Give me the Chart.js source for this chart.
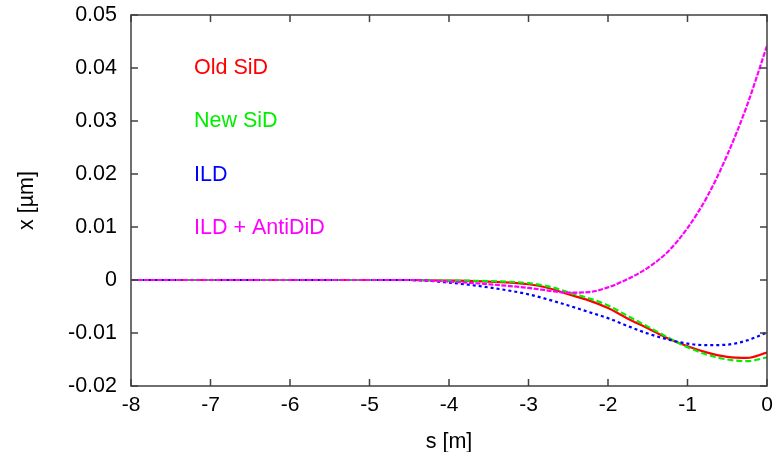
<!DOCTYPE html>
<html>
<head>
<meta charset="utf-8">
<script src="https://cdn.jsdelivr.net/npm/chart.js@4"></script>
<style>
  html, body { margin: 0; padding: 0; background: #fff; }
  #wrap { width: 782px; height: 452px; }
</style>
</head>
<body>
<div id="wrap"><canvas id="c" width="782" height="452"></canvas></div>
<script>
/* ---------- Data ---------- */

const s = [-8, -7, -6, -5, -4.5, -4, -3.5, -3, -2.75, -2.5, -2.25, -2,
           -1.75, -1.5, -1.25, -1, -0.75, -0.5, -0.25, 0];

const oldSiD = [0, 0, 0, 0, 0, -0.0001, -0.0003, -0.0008, -0.0015, -0.0027, -0.0038, -0.0053,
                -0.0073, -0.0091, -0.0110, -0.0125, -0.0137, -0.0145, -0.0147, -0.0137];

const newSiD = [0, 0, 0, 0, 0, -0.0001, -0.0002, -0.0006, -0.0012, -0.0023, -0.0034, -0.0048,
                -0.0068, -0.0088, -0.0108, -0.0127, -0.0141, -0.0150, -0.0153, -0.0146];

const ild = [0, 0, 0, 0, 0, -0.0005, -0.0014, -0.0027, -0.0037, -0.0048, -0.0060, -0.0072,
             -0.0087, -0.0101, -0.0112, -0.0120, -0.0123, -0.0122, -0.0114, -0.0099];

const ildAnti = [0, 0, 0, 0, 0, -0.0003, -0.0008, -0.0015, -0.0020, -0.0024, -0.0023, -0.0014,
                 0.0002, 0.0023, 0.0053, 0.0098, 0.0158, 0.0236, 0.0330, 0.0442];

const names = ["Old SiD", "New SiD", "ILD", "ILD + AntiDiD"];
const xTitle = "s [m]";
const yTitle = "x [\u00b5m]";

/* ---------- Helpers ---------- */

const FONT = "Liberation Sans, Arial, sans-serif";
const pts = ys => s.map((v, i) => ({ x: v, y: ys[i] }));

function series(label, ys, color, dash, order) {
    return {
        label,
        data: pts(ys),
        borderColor: color,
        backgroundColor: color,
        borderWidth: 2.2,
        borderDash: dash,
        pointRadius: 0,
        cubicInterpolationMode: "monotone",
        order
    };
}

/* ---------- Frame, inner ticks, legend, titles ---------- */

const frame = {
    id: "frame",
    afterDatasetsDraw(chart) {
        const { ctx, chartArea: a, scales: { x, y } } = chart;
        const T = 7;
        ctx.save();
        ctx.strokeStyle = "#404040";
        ctx.lineWidth = 1.5;
        ctx.beginPath();
        x.ticks.forEach(t => {
            const px = x.getPixelForValue(t.value);
            ctx.moveTo(px, a.bottom); ctx.lineTo(px, a.bottom - T);
            ctx.moveTo(px, a.top); ctx.lineTo(px, a.top + T);
        });
        y.ticks.forEach(t => {
            const py = y.getPixelForValue(t.value);
            ctx.moveTo(a.left, py); ctx.lineTo(a.left + T, py);
            ctx.moveTo(a.right, py); ctx.lineTo(a.right - T, py);
        });
        ctx.stroke();
        ctx.strokeRect(a.left, a.top, a.right - a.left, a.bottom - a.top);

        // text legend inside the plot
        ctx.font = "21.5px " + FONT;
        ctx.textAlign = "left";
        ctx.textBaseline = "middle";
        chart.data.datasets.forEach((d, i) => {
            ctx.fillStyle = d.borderColor;
            ctx.fillText(d.label, 194, 68 + i * 53.3);
        });

        // axis titles
        ctx.fillStyle = "#000";
        ctx.font = "21.5px " + FONT;
        ctx.textAlign = "center";
        ctx.fillText(xTitle, (a.left + a.right) / 2, 442);
        ctx.translate(27, (a.top + a.bottom) / 2);
        ctx.rotate(-Math.PI / 2);
        ctx.fillText(yTitle, 0, 0);
        ctx.restore();
    }
};

/* ---------- Chart ---------- */

new Chart(document.getElementById("c"), {
    type: "line",
    data: {
        datasets: [
            series(names[0], oldSiD, "#ff0000", [], 4),
            series(names[1], newSiD, "#00ee00", [6, 3], 3),
            series(names[2], ild, "#0000ff", [3, 3], 2),
            series(names[3], ildAnti, "#ff00ff", [5, 1.5], 1)
        ]
    },
    options: {
        responsive: false,
        animation: false,
        layout: { padding: { left: 0, right: 15, top: 15, bottom: 0 } },
        plugins: { legend: { display: false }, tooltip: { enabled: false } },
        scales: {
            x: {
                type: "linear",
                min: -8, max: 0,
                ticks: { stepSize: 1, color: "#000", padding: 7, font: { family: FONT, size: 21 } },
                grid: { display: false, drawTicks: false },
                border: { display: false },
                afterFit: sc => { sc.height = 66; sc.paddingLeft = 0; sc.paddingRight = 0; }
            },
            y: {
                min: -0.02, max: 0.05,
                ticks: {
                    stepSize: 0.01, color: "#000", padding: 14,
                    font: { family: FONT, size: 21.5 },
                    callback: v => String(Math.round(v * 100) / 100)
                },
                grid: { display: false, drawTicks: false },
                border: { display: false },
                afterFit: sc => { sc.width = 131; sc.paddingTop = 0; sc.paddingBottom = 0; }
            }
        }
    },
    plugins: [frame]
});
</script>
</body>
</html>
